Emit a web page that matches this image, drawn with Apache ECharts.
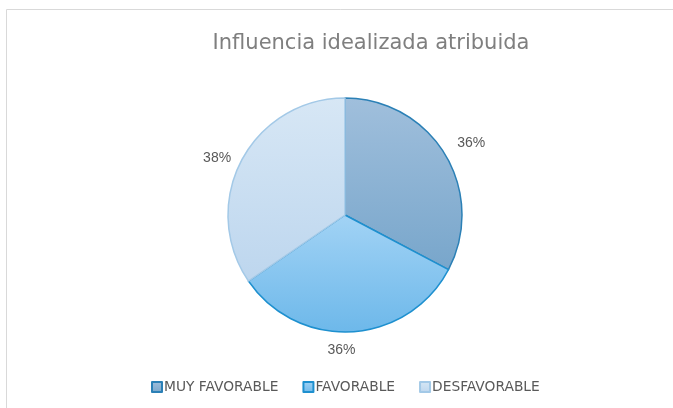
<!DOCTYPE html>
<html>
<head>
<meta charset="utf-8">
<script src="https://cdn.jsdelivr.net/npm/echarts@6/dist/echarts.min.js"></script>
<style>
  html, body { margin: 0; padding: 0; background: #fff; }
  #myChart { width: 673px; height: 408px; }
</style>
</head>
<body>
<div id="myChart"></div>
<script>
    // datos del gráfico
    var categorias = ['MUY FAVORABLE', 'FAVORABLE', 'DESFAVORABLE'];
    var valores = [36, 36, 38];

    // colores: arriba, abajo, borde
    var colTop = ['#a0bfdc', '#a2d3f5', '#d7e7f5'];
    var colBottom = ['#78a6cb', '#6db8ea', '#bdd6ee'];
    var colBorde = ['#2b80b6', '#1e90cf', '#a3c9e7'];

    var myChart = echarts.init(document.getElementById('myChart'));

    function grad(i) {
        return new echarts.graphic.LinearGradient(0, 0, 0, 1, [
            { offset: 0, color: colTop[i] },
            { offset: 1, color: colBottom[i] }
        ]);
    }

    var datos = categorias.map(function (c, i) {
        return {
            name: c,
            value: valores[i],
            itemStyle: { color: grad(i), borderColor: colBorde[i], borderWidth: 1.5 }
        };
    });

    var option = {
        animation: false,
        textStyle: { fontFamily: 'DejaVu Sans' },
        graphic: [{
            type: 'rect',
            shape: { x: 6.5, y: 9.5, width: 700, height: 430 },
            style: { fill: 'none', stroke: '#d9d9d9', lineWidth: 1 }
        }],
        title: {
            text: 'Influencia idealizada atribuida',
            left: 366,
            textAlign: 'center',
            top: 28,
            textStyle: { fontSize: 21, fontWeight: 'normal', color: '#7f7f7f', fontFamily: 'DejaVu Sans' }
        },
        legend: {
            data: categorias,
            bottom: 9,
            left: 146,
            icon: 'rect',
            itemWidth: 10,
            itemHeight: 10,
            itemGap: 24,
            textStyle: { fontSize: 13.8, color: '#595959', padding: [0, 0, 0, -3], fontFamily: 'DejaVu Sans' }
        },
        series: [{
            type: 'pie',
            center: [345, 215],
            radius: 117,
            startAngle: 90,
            clockwise: true,
            data: datos,
            label: {
                show: true,
                position: 'outside',
                formatter: '{c}%',
                fontSize: 14,
                color: '#595959',
                fontFamily: 'Liberation Sans'
            },
            labelLine: { show: false, length: 14, length2: 0 },
            labelLayout: function (p) {
                if (p.dataIndex === 1) return { dx: -30, dy: 4 };
                if (p.dataIndex === 2) return { dx: 7, dy: 4 };
                return { dx: -5, dy: -4 };
            },
            emphasis: { disabled: true }
        }]
    };

    myChart.setOption(option);
</script>
</body>
</html>
